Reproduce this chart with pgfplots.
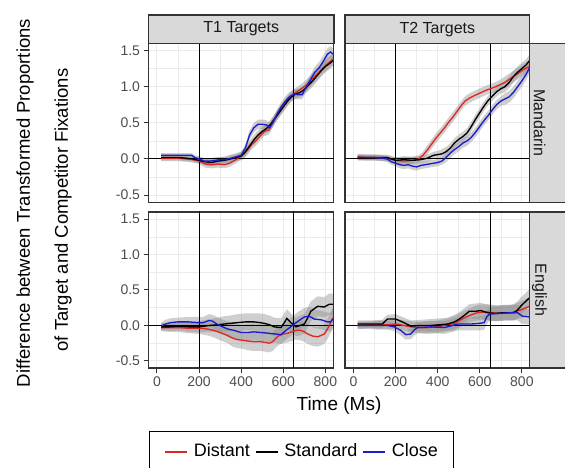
\documentclass[border=0pt]{standalone}
\usepackage{fontspec}
\setmainfont{Liberation Sans}
\usepackage{pgfplots}
\usepackage{pgfplotstable}
\pgfplotsset{compat=1.18}
\usepgfplotslibrary{fillbetween}

\definecolor{cred}{RGB}{222,40,38}
\definecolor{cblue}{RGB}{28,28,205}
\definecolor{gridc}{RGB}{235,235,235}
\definecolor{framec}{RGB}{51,51,51}
\definecolor{stripc}{RGB}{217,217,217}
\definecolor{tickc}{RGB}{77,77,77}
\definecolor{ribc}{RGB}{140,140,140}

% ---------- T1 Mandarin ----------
\pgfplotstableread{
t v e
20 0.01 0.04
60 0.01 0.04
100 0.01 0.04
140 0.00 0.04
170 -0.01 0.04
200 -0.03 0.04
230 -0.07 0.05
260 -0.08 0.05
290 -0.07 0.05
320 -0.08 0.05
345 -0.06 0.05
370 -0.02 0.05
390 0.02 0.05
410 0.06 0.065
430 0.12 0.065
450 0.20 0.065
470 0.25 0.065
490 0.32 0.065
510 0.38 0.065
530 0.40 0.065
550 0.50 0.065
570 0.60 0.065
590 0.68 0.065
610 0.76 0.065
630 0.84 0.065
650 0.90 0.065
670 0.94 0.065
690 0.98 0.065
710 1.02 0.08
730 1.08 0.08
750 1.14 0.08
770 1.20 0.08
790 1.26 0.08
810 1.32 0.08
836 1.38 0.08
}\Ared
\pgfplotstableread{
t v e
20 0.02 0.04
60 0.02 0.04
100 0.02 0.04
140 0.01 0.04
170 0.00 0.04
200 -0.02 0.04
230 -0.04 0.05
260 -0.05 0.05
290 -0.03 0.05
320 -0.02 0.05
350 0.00 0.05
380 0.02 0.05
400 0.04 0.05
420 0.10 0.065
440 0.18 0.065
460 0.26 0.065
480 0.33 0.065
500 0.38 0.065
520 0.42 0.065
540 0.48 0.065
560 0.56 0.065
580 0.64 0.065
600 0.72 0.065
620 0.80 0.065
640 0.86 0.065
660 0.90 0.065
680 0.92 0.065
700 0.96 0.065
720 1.02 0.08
740 1.08 0.08
760 1.15 0.08
780 1.22 0.08
800 1.28 0.08
820 1.32 0.08
836 1.36 0.08
}\Ablack
\pgfplotstableread{
t v e
20 0.05 0.03
60 0.05 0.03
100 0.05 0.03
140 0.05 0.03
165 0.05 0.03
180 0.02 0.03
200 0.00 0.04
225 -0.03 0.04
250 -0.03 0.04
275 -0.02 0.04
300 -0.01 0.04
325 -0.01 0.04
350 0.01 0.05
375 0.03 0.05
400 0.05 0.05
420 0.15 0.05
440 0.33 0.065
460 0.43 0.065
480 0.48 0.065
500 0.48 0.065
520 0.47 0.065
535 0.43 0.065
550 0.50 0.065
570 0.62 0.065
590 0.72 0.065
610 0.80 0.065
630 0.86 0.065
650 0.90 0.065
670 0.89 0.065
690 0.89 0.065
710 1.00 0.065
730 1.10 0.065
750 1.20 0.08
770 1.26 0.08
790 1.35 0.08
810 1.45 0.08
825 1.48 0.08
836 1.45 0.08
}\Ablue

% ---------- T2 Mandarin ----------
\pgfplotstableread{
t v e
20 0.03 0.04
60 0.02 0.04
100 0.02 0.04
140 0.01 0.04
180 0.00 0.04
200 -0.02 0.04
240 -0.03 0.05
280 -0.02 0.05
310 0.00 0.05
330 0.05 0.05
350 0.12 0.065
370 0.20 0.065
390 0.28 0.065
410 0.35 0.065
430 0.42 0.065
450 0.50 0.065
470 0.57 0.065
490 0.65 0.065
510 0.73 0.065
530 0.80 0.065
550 0.84 0.065
570 0.87 0.065
600 0.91 0.065
630 0.95 0.065
660 0.98 0.065
690 1.02 0.065
720 1.06 0.08
750 1.12 0.08
780 1.18 0.08
810 1.24 0.08
836 1.28 0.08
}\Bred
\pgfplotstableread{
t v e
20 0.02 0.04
60 0.02 0.04
100 0.02 0.04
140 0.02 0.04
160 0.02 0.04
180 0.00 0.04
200 -0.02 0.04
240 -0.01 0.05
280 -0.02 0.05
320 -0.01 0.05
350 0.01 0.05
380 0.05 0.05
400 0.06 0.05
420 0.07 0.065
440 0.10 0.065
460 0.15 0.065
480 0.22 0.065
500 0.27 0.065
520 0.31 0.065
540 0.36 0.065
560 0.45 0.065
580 0.55 0.065
600 0.64 0.065
620 0.73 0.065
640 0.81 0.065
660 0.87 0.065
680 0.93 0.065
700 0.97 0.065
720 1.00 0.08
740 1.06 0.08
760 1.14 0.08
780 1.20 0.08
800 1.25 0.08
820 1.30 0.08
836 1.36 0.08
}\Bblack
\pgfplotstableread{
t v e
20 0.02 0.04
60 0.02 0.04
100 0.02 0.04
140 0.01 0.04
160 0.00 0.04
180 -0.04 0.04
200 -0.06 0.04
220 -0.08 0.05
240 -0.09 0.05
260 -0.08 0.05
280 -0.10 0.05
300 -0.11 0.05
320 -0.09 0.05
340 -0.08 0.05
360 -0.07 0.05
380 -0.06 0.05
400 -0.05 0.05
420 -0.03 0.05
440 0.02 0.065
460 0.08 0.065
480 0.13 0.065
500 0.17 0.065
520 0.22 0.065
540 0.25 0.065
560 0.30 0.065
580 0.37 0.065
600 0.45 0.065
620 0.53 0.065
640 0.60 0.065
660 0.68 0.065
680 0.75 0.065
700 0.80 0.065
720 0.83 0.08
740 0.86 0.08
760 0.92 0.08
780 1.00 0.08
800 1.08 0.08
820 1.17 0.08
836 1.26 0.08
}\Bblue

% ---------- T1 English ----------
\pgfplotstableread{
t v e
20 -0.03 0.05
60 -0.03 0.06
100 -0.03 0.06
150 -0.04 0.07
200 -0.04 0.08
240 -0.05 0.09
270 -0.07 0.10
300 -0.10 0.11
335 -0.14 0.11
360 -0.18 0.12
383 -0.20 0.12
410 -0.21 0.12
430 -0.22 0.13
460 -0.23 0.13
494 -0.23 0.13
515 -0.24 0.13
534 -0.25 0.13
550 -0.23 0.13
565 -0.18 0.13
581 -0.14 0.13
600 -0.12 0.13
621 -0.11 0.13
640 -0.09 0.13
660 -0.07 0.13
684 -0.07 0.14
700 -0.09 0.14
716 -0.12 0.14
740 -0.15 0.14
763 -0.16 0.14
780 -0.14 0.14
795 -0.12 0.14
808 -0.06 0.14
819 0.00 0.14
836 0.11 0.15
}\Cred
\pgfplotstableread{
t v e
20 -0.02 0.05
60 -0.02 0.06
100 -0.01 0.06
150 -0.02 0.07
200 -0.02 0.08
250 0.00 0.09
290 0.01 0.10
319 0.02 0.11
350 0.03 0.11
383 0.04 0.12
420 0.05 0.12
462 0.05 0.12
490 0.04 0.13
510 0.03 0.13
535 0.01 0.13
557 -0.02 0.13
589 -0.03 0.13
605 0.04 0.13
617 0.10 0.13
636 0.04 0.13
660 -0.02 0.13
680 0.00 0.14
700 0.02 0.14
715 0.10 0.14
731 0.20 0.14
763 0.27 0.14
795 0.26 0.14
819 0.30 0.15
836 0.30 0.15
}\Cblack
\pgfplotstableread{
t v e
20 -0.01 0.05
40 0.02 0.06
65 0.04 0.06
100 0.05 0.06
150 0.05 0.07
192 0.04 0.08
220 0.04 0.08
248 0.07 0.09
265 0.06 0.09
279 0.03 0.10
305 -0.01 0.10
335 -0.05 0.11
367 -0.07 0.11
400 -0.10 0.11
430 -0.10 0.12
460 -0.09 0.12
494 -0.10 0.12
530 -0.11 0.12
560 -0.12 0.12
589 -0.13 0.13
613 -0.07 0.13
635 -0.02 0.13
652 0.02 0.13
675 0.07 0.13
700 0.12 0.13
724 0.13 0.13
748 0.09 0.13
779 0.08 0.13
811 0.05 0.13
825 0.05 0.13
836 0.09 0.13
}\Cblue

% ---------- T2 English ----------
\pgfplotstableread{
t v e
20 0.00 0.05
80 0.01 0.05
120 0.01 0.06
160 0.01 0.06
206 0.02 0.07
240 0.00 0.07
273 -0.02 0.08
310 -0.03 0.08
352 -0.03 0.09
400 -0.02 0.09
432 0.00 0.09
480 0.03 0.10
505 0.07 0.10
527 0.11 0.10
560 0.15 0.10
589 0.18 0.11
637 0.19 0.11
684 0.17 0.11
716 0.18 0.11
748 0.18 0.11
795 0.22 0.12
836 0.27 0.12
}\Dred
\pgfplotstableread{
t v e
20 0.02 0.05
80 0.02 0.05
138 0.02 0.06
150 0.06 0.06
162 0.09 0.06
201 0.09 0.07
240 0.04 0.07
273 -0.01 0.08
320 0.00 0.08
368 0.00 0.09
410 0.01 0.09
448 0.02 0.09
480 0.05 0.10
503 0.09 0.10
530 0.15 0.10
550 0.20 0.10
580 0.20 0.11
605 0.21 0.11
637 0.18 0.11
668 0.17 0.11
716 0.18 0.11
763 0.18 0.11
780 0.22 0.12
797 0.28 0.12
815 0.33 0.12
836 0.39 0.12
}\Dblack
\pgfplotstableread{
t v e
20 0.00 0.05
80 0.00 0.05
120 0.00 0.06
160 0.00 0.06
193 -0.02 0.06
225 -0.07 0.07
249 -0.13 0.07
273 -0.12 0.07
290 -0.06 0.08
305 -0.03 0.08
368 -0.02 0.08
432 -0.03 0.09
495 0.02 0.09
558 0.02 0.09
600 0.03 0.10
621 0.04 0.10
633 0.12 0.10
646 0.16 0.10
701 0.17 0.10
748 0.18 0.11
779 0.18 0.11
803 0.13 0.11
836 0.12 0.11
}\Dblue

\newcommand{\ribbon}[2]{%
  \addplot[draw=none, forget plot, name path=#2u] table[x=t, y expr=\thisrow{v}+\thisrow{e}] {#1};
  \addplot[draw=none, forget plot, name path=#2l] table[x=t, y expr=\thisrow{v}-\thisrow{e}] {#1};
  \addplot[fill=ribc, fill opacity=0.42, draw=none, forget plot] fill between[of=#2u and #2l];
}
\newcommand{\reflines}{%
  \addplot[black, line width=0.9pt, forget plot] coordinates {(200,-1) (200,2)};
  \addplot[black, line width=0.9pt, forget plot] coordinates {(650,-1) (650,2)};
  \addplot[black, line width=0.9pt, forget plot] coordinates {(-100,0) (900,0)};
}

\pgfplotsset{
  panel/.style={
    scale only axis,
    width=185.3pt,
    xmin=-40, xmax=840, ymin=-0.6, ymax=1.6,
    axis line style={framec, line width=1.1pt},
    xtick={0,200,400,600,800},
    ytick={-0.5,0,0.5,1,1.5},
    minor xtick={100,300,500,700},
    minor ytick={-0.25,0.25,0.75,1.25},
    grid=both,
    major grid style={gridc, line width=1pt},
    minor grid style={gridc, line width=0.55pt},
    tick align=outside,
    xtick pos=bottom, ytick pos=left,
    major tick length=5pt, minor tick length=0pt,
    tick style={framec, line width=1pt},
    tick label style={tickc, font=\fontsize{14}{16}\selectfont},
    /pgf/number format/assume math mode=true,
    yticklabel style={/pgf/number format/.cd, fixed, fixed zerofill, precision=1},
    xticklabel style={/pgf/number format/.cd, fixed, precision=0},
    clip=true,
  },
  noxlab/.style={xticklabels={}, xtick style={draw=none}},
  noylab/.style={yticklabels={}, ytick style={draw=none}},
}

\begin{document}
\begin{tikzpicture}[x=1pt,y=1pt]

% Panel A: T1 Mandarin
\begin{axis}[panel, noxlab, height=159pt, at={(148.5pt,265.7pt)}, anchor=south west]
  \ribbon{\Ared}{ar}\ribbon{\Ablack}{ak}\ribbon{\Ablue}{ab}
  \reflines
  \addplot[cred, line width=1.35pt] table[x=t,y=v] {\Ared};
  \addplot[black, line width=1.35pt] table[x=t,y=v] {\Ablack};
  \addplot[cblue, line width=1.35pt] table[x=t,y=v] {\Ablue};
\end{axis}

% Panel B: T2 Mandarin
\begin{axis}[panel, noxlab, noylab, height=159pt, at={(345pt,265.7pt)}, anchor=south west]
  \ribbon{\Bred}{br}\ribbon{\Bblack}{bk}\ribbon{\Bblue}{bb}
  \reflines
  \addplot[cred, line width=1.35pt] table[x=t,y=v] {\Bred};
  \addplot[black, line width=1.35pt] table[x=t,y=v] {\Bblack};
  \addplot[cblue, line width=1.35pt] table[x=t,y=v] {\Bblue};
\end{axis}

% Panel C: T1 English
\begin{axis}[panel, height=156pt, at={(148.5pt,100pt)}, anchor=south west]
  \ribbon{\Cred}{cr}\ribbon{\Cblack}{ck}\ribbon{\Cblue}{cb}
  \reflines
  \addplot[cred, line width=1.35pt] table[x=t,y=v] {\Cred};
  \addplot[black, line width=1.35pt] table[x=t,y=v] {\Cblack};
  \addplot[cblue, line width=1.35pt] table[x=t,y=v] {\Cblue};
\end{axis}

% Panel D: T2 English
\begin{axis}[panel, noylab, height=156pt, at={(345pt,100pt)}, anchor=south west]
  \ribbon{\Dred}{dr}\ribbon{\Dblack}{dk}\ribbon{\Dblue}{db}
  \reflines
  \addplot[cred, line width=1.35pt] table[x=t,y=v] {\Dred};
  \addplot[black, line width=1.35pt] table[x=t,y=v] {\Dblack};
  \addplot[cblue, line width=1.35pt] table[x=t,y=v] {\Dblue};
\end{axis}

% Legend (hidden axis)
\begin{axis}[scale only axis, hide axis, width=306pt, height=37pt,
  at={(149pt,0pt)}, anchor=south west, xmin=0, xmax=1, ymin=0, ymax=1,
  legend columns=3,
  legend image code/.code={\draw[#1] (0pt,0pt) -- (22pt,0pt);},
  legend style={at={(0,1)}, anchor=north west, draw=black, line width=0.8pt,
    font=\fontsize{18}{20}\selectfont, inner xsep=15pt, inner ysep=12pt,
    nodes={inner sep=0pt, text height=13pt, text depth=4pt},
    /tikz/every odd column/.style={column sep=6pt},
    /tikz/every even column/.style={column sep=5pt}}]
  \addplot[draw=none, forget plot] coordinates {(0,0) (1,1)};
  \addlegendimage{cred, line width=1.5pt}\addlegendentry{Distant}
  \addlegendimage{black, line width=1.5pt}\addlegendentry{Standard}
  \addlegendimage{cblue, line width=1.5pt}\addlegendentry{Close}
\end{axis}

% Strips
\fill[stripc] (148.5,424.7) rectangle (334,453);
\draw[framec, line width=1.1pt] (148.5,424.7) rectangle (334,453);
\fill[stripc] (345,424.7) rectangle (529.8,453);
\draw[framec, line width=1.1pt] (345,424.7) rectangle (529.8,453);
\fill[stripc] (529.8,265.7) rectangle (570,424.7);
\draw[framec, line width=1.1pt] (570,265.7) -- (529.8,265.7) -- (529.8,424.7) -- (570,424.7);
\fill[stripc] (529.8,100) rectangle (570,256);
\draw[framec, line width=1.1pt] (570,100) -- (529.8,100) -- (529.8,256) -- (570,256);

\node[text=black!90, font=\fontsize{16}{18}\selectfont] at (241.25,438.85) {T1 Targets};
\node[text=black!90, font=\fontsize{16}{18}\selectfont] at (437.4,438.85) {T2 Targets};
\node[text=black!90, font=\fontsize{16}{18}\selectfont, rotate=-90] at (539.5,345.2) {Mandarin};
\node[text=black!90, font=\fontsize{16}{18}\selectfont, rotate=-90] at (539.5,178) {English};

% Axis titles
\node[font=\fontsize{18.5}{20}\selectfont, rotate=90] at (25,265) {Difference between Transformed Proportions};
\node[font=\fontsize{18.5}{20}\selectfont, rotate=90] at (63,258) {of Target and Competitor Fixations};
\node[font=\fontsize{19}{21}\selectfont] at (339,62) {Time (Ms)};

\pgfresetboundingbox
\path[use as bounding box] (0,0) rectangle (565,468);
\end{tikzpicture}
\end{document}
